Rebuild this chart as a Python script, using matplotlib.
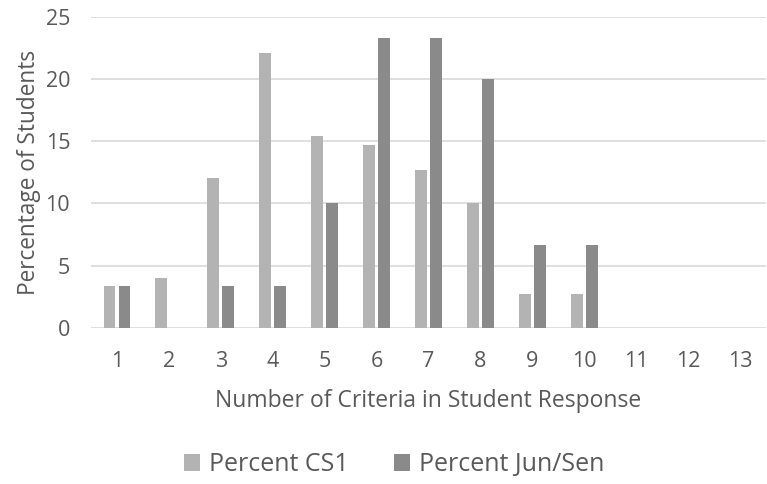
import numpy as np
import matplotlib
matplotlib.use('Agg')
import matplotlib.pyplot as plt

plt.rcParams['font.family'] = ['Open Sans', 'DejaVu Sans']

# 数据
criteria = ['1', '2', '3', '4', '5', '6', '7', '8', '9', '10', '11', '12', '13']
pct_cs1 = [3.33, 4.0, 12.0, 22.1, 15.4, 14.7, 12.7, 10.0, 2.67, 2.67, 0, 0, 0]
pct_junsen = [3.33, 0, 3.33, 3.33, 10.0, 23.3, 23.3, 20.0, 6.67, 6.67, 0, 0, 0]

text_col = '#595959'
fig = plt.figure(figsize=(7.67, 4.84), dpi=100)
ax = fig.add_axes([0.1186, 0.3229, 0.8801, 0.6426])

x = np.arange(len(criteria))
w = 0.225
ax.bar(x - 0.145, pct_cs1, w, color='#b3b3b3', label='Percent CS1', zorder=3)
ax.bar(x + 0.145, pct_junsen, w, color='#8a8a8a', label='Percent Jun/Sen', zorder=3)

ax.set_xlim(-0.5, len(criteria) - 0.5)
ax.set_ylim(0, 25)
ax.set_yticks([0, 5, 10, 15, 20, 25])
ax.set_xticks(x)
ax.set_xticklabels(criteria)
ax.yaxis.grid(True, color='#d9d9d9', linewidth=1.2, zorder=0)
for s in ax.spines.values():
    s.set_visible(False)
ax.tick_params(length=0, labelsize=15.5, labelcolor=text_col)
ax.tick_params(axis='x', pad=17)
ax.tick_params(axis='y', pad=15)

ax.set_xlabel('Number of Criteria in Student Response', fontsize=16.5, color=text_col, labelpad=12)
ax.set_ylabel('Percentage of Students', fontsize=16.3, color=text_col, labelpad=3)

fig.legend(loc='center', bbox_to_anchor=(0.514, 0.04), ncol=2, frameon=False,
           fontsize=18, labelcolor=text_col, handlelength=0.65, handleheight=0.65,
           handletextpad=0.35, columnspacing=1.8)

fig.savefig('out.png', dpi=100)
